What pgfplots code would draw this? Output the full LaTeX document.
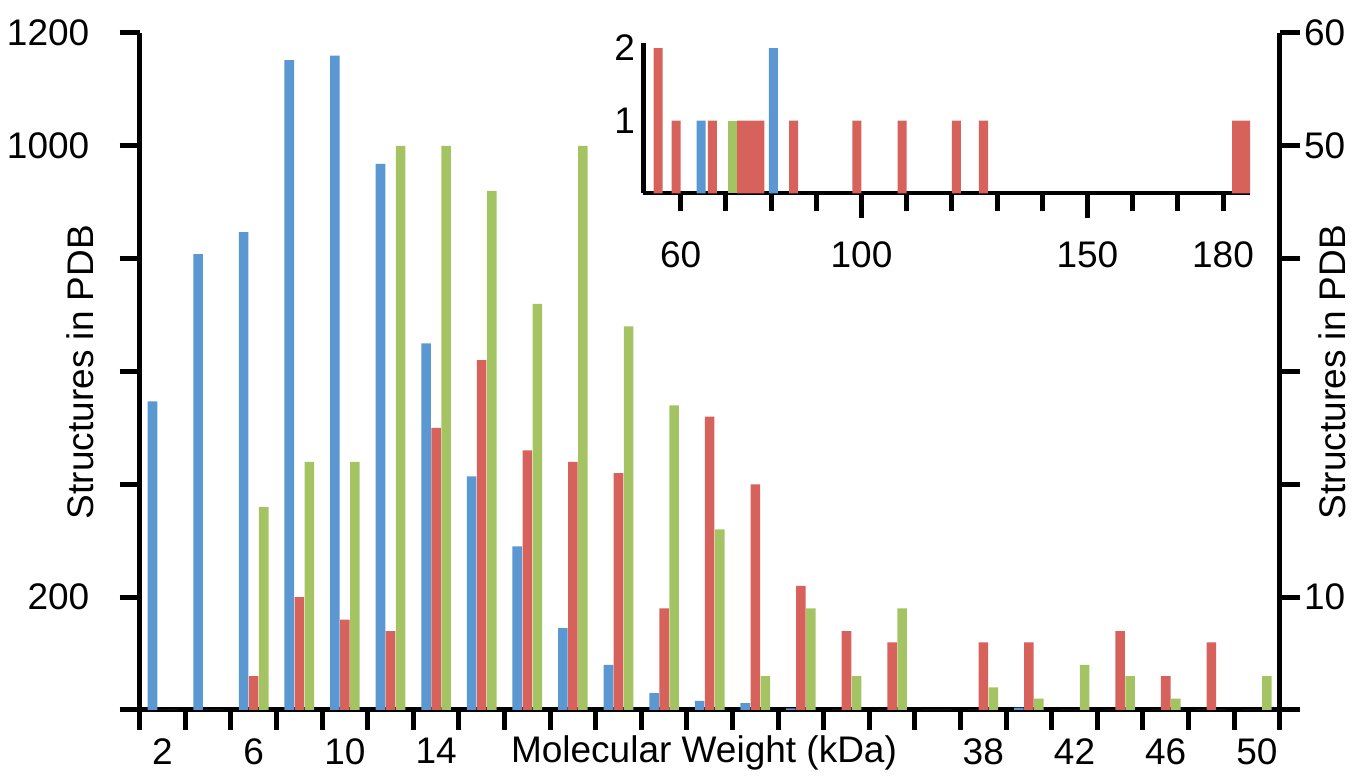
\documentclass[border=0pt]{standalone}
\usepackage{fontspec}
\setmainfont{Liberation Sans}
\usepackage{pgfplots}
\usepackage{pgfplotstable}
\pgfplotsset{compat=1.18}
\definecolor{barBlue}{HTML}{5B97D1}
\definecolor{barRed}{HTML}{D6625B}
\definecolor{barGreen}{HTML}{A4C464}

% main histogram, 2 kDa bins; blue on left axis, red/green on right axis
\pgfplotstableread{
kda blue red green
2  547  0  0
4  808  0  0
6  847  3  18
8  1152 10 22
10 1160 8  22
12 968  7  50
14 650  25 50
16 414  31 46
18 290  23 36
20 145  22 50
22 80   21 34
24 30   9  27
26 16   26 16
28 12   20 3
30 3    11 9
32 0    7  3
34 0    6  9
36 0    0  0
38 0    6  2
40 4    6  1
42 0    0  4
44 0    7  3
46 0    3  1
48 0    6  0
50 0    0  3
}\maindata

% inset, above 50 kDa
\pgfplotstableread{
kda n
55 2
59 1
67 1
73.5 1
75.5 1
77.5 1
85 1
99 1
109 1
121 1
127 1
183 1
185 1
}\insetred
\pgfplotstableread{
kda n
64.5 1
80.5 2
}\insetblue
\pgfplotstableread{
kda n
71.5 1
}\insetgreen

\begin{document}
\begin{tikzpicture}[font=\fontsize{18.5}{21}\selectfont]
\useasboundingbox (0,0) rectangle (676.5pt,389.5pt);

\pgfplotsset{
  mainbox/.style={
    at={(69.85pt,34.5pt)}, anchor=south west,
    scale only axis, width=570pt, height=338.5pt,
    xmin=1, xmax=51, ymin=0,
    axis line style={line width=2.5pt, -},
    tick align=outside,
    major tick length=10pt,
    tick style={line width=2.5pt, black},
    tick label style={inner sep=0pt},
    /pgf/number format/assume math mode=true,
    ybar, bar width=0.42,
  }
}

\begin{axis}[
  mainbox,
  ymax=1200,
  axis x line*=bottom, axis y line*=left,
  xtick={1,3,...,51},
  xticklabels={2,,6,,10,,14,,,,,,,,,,,,38,,42,,46,,50,},
  xticklabel style={xshift=11.4pt, yshift=-4pt},
  ytick={0,200,...,1200},
  yticklabels={,200,,,,1000,1200},
  yticklabel style={xshift=-15pt},
]
\addplot[fill=barBlue, draw=none, bar shift=-0.44] table[x=kda, y=blue] {\maindata};
\end{axis}

\begin{axis}[
  mainbox,
  ymax=60,
  axis x line=none, axis y line*=right,
  ytick={0,10,...,60},
  yticklabels={,10,,,,50,60},
  yticklabel style={xshift=2pt},
]
\addplot[fill=barRed, draw=none, bar shift=0] table[x=kda, y=red] {\maindata};
\addplot[fill=barGreen, draw=none, bar shift=0.44] table[x=kda, y=green] {\maindata};
\end{axis}

\begin{axis}[
  at={(321.65pt,292.85pt)}, anchor=south west,
  scale only axis, width=303.35pt, height=75pt,
  xmin=51.72, xmax=185.97, ymin=0, ymax=2.065,
  axis x line*=bottom, axis y line*=left,
  axis line style={line width=2.2pt, -},
  tick align=outside,
  major tick length=9pt,
  tick style={line width=2.5pt, black},
  tick label style={inner sep=0pt},
  xtick={60,70,...,180},
  xticklabels={60,,,,100,,,,,150,,,180},
  xticklabel style={yshift=-15pt},
  extra x ticks={100,150},
  extra x tick labels={},
  extra x tick style={tick style={yshift=-3.5pt}},
  ytick=\empty,
  ybar, bar width=2,
  clip=false,
]
\addplot[fill=barRed, draw=none, bar shift=0pt] table[x=kda, y=n] {\insetred};
\addplot[fill=barBlue, draw=none, bar shift=0pt] table[x=kda, y=n] {\insetblue};
\addplot[fill=barGreen, draw=none, bar shift=0pt] table[x=kda, y=n] {\insetgreen};
\node[anchor=east, inner sep=0pt] at (axis cs:51.72,2) {\hspace*{3pt}2\hspace*{4pt}};
\node[anchor=east, inner sep=0pt] at (axis cs:51.72,1) {1\hspace*{4pt}};
\end{axis}

\node[rotate=90, inner sep=0pt] at (40pt,203.5pt) {Structures in PDB};
\node[rotate=90, inner sep=0pt] at (666pt,203.5pt) {Structures in PDB};
\node[anchor=base] at (352pt,8pt) {Molecular Weight (kDa)};
\end{tikzpicture}
\end{document}
